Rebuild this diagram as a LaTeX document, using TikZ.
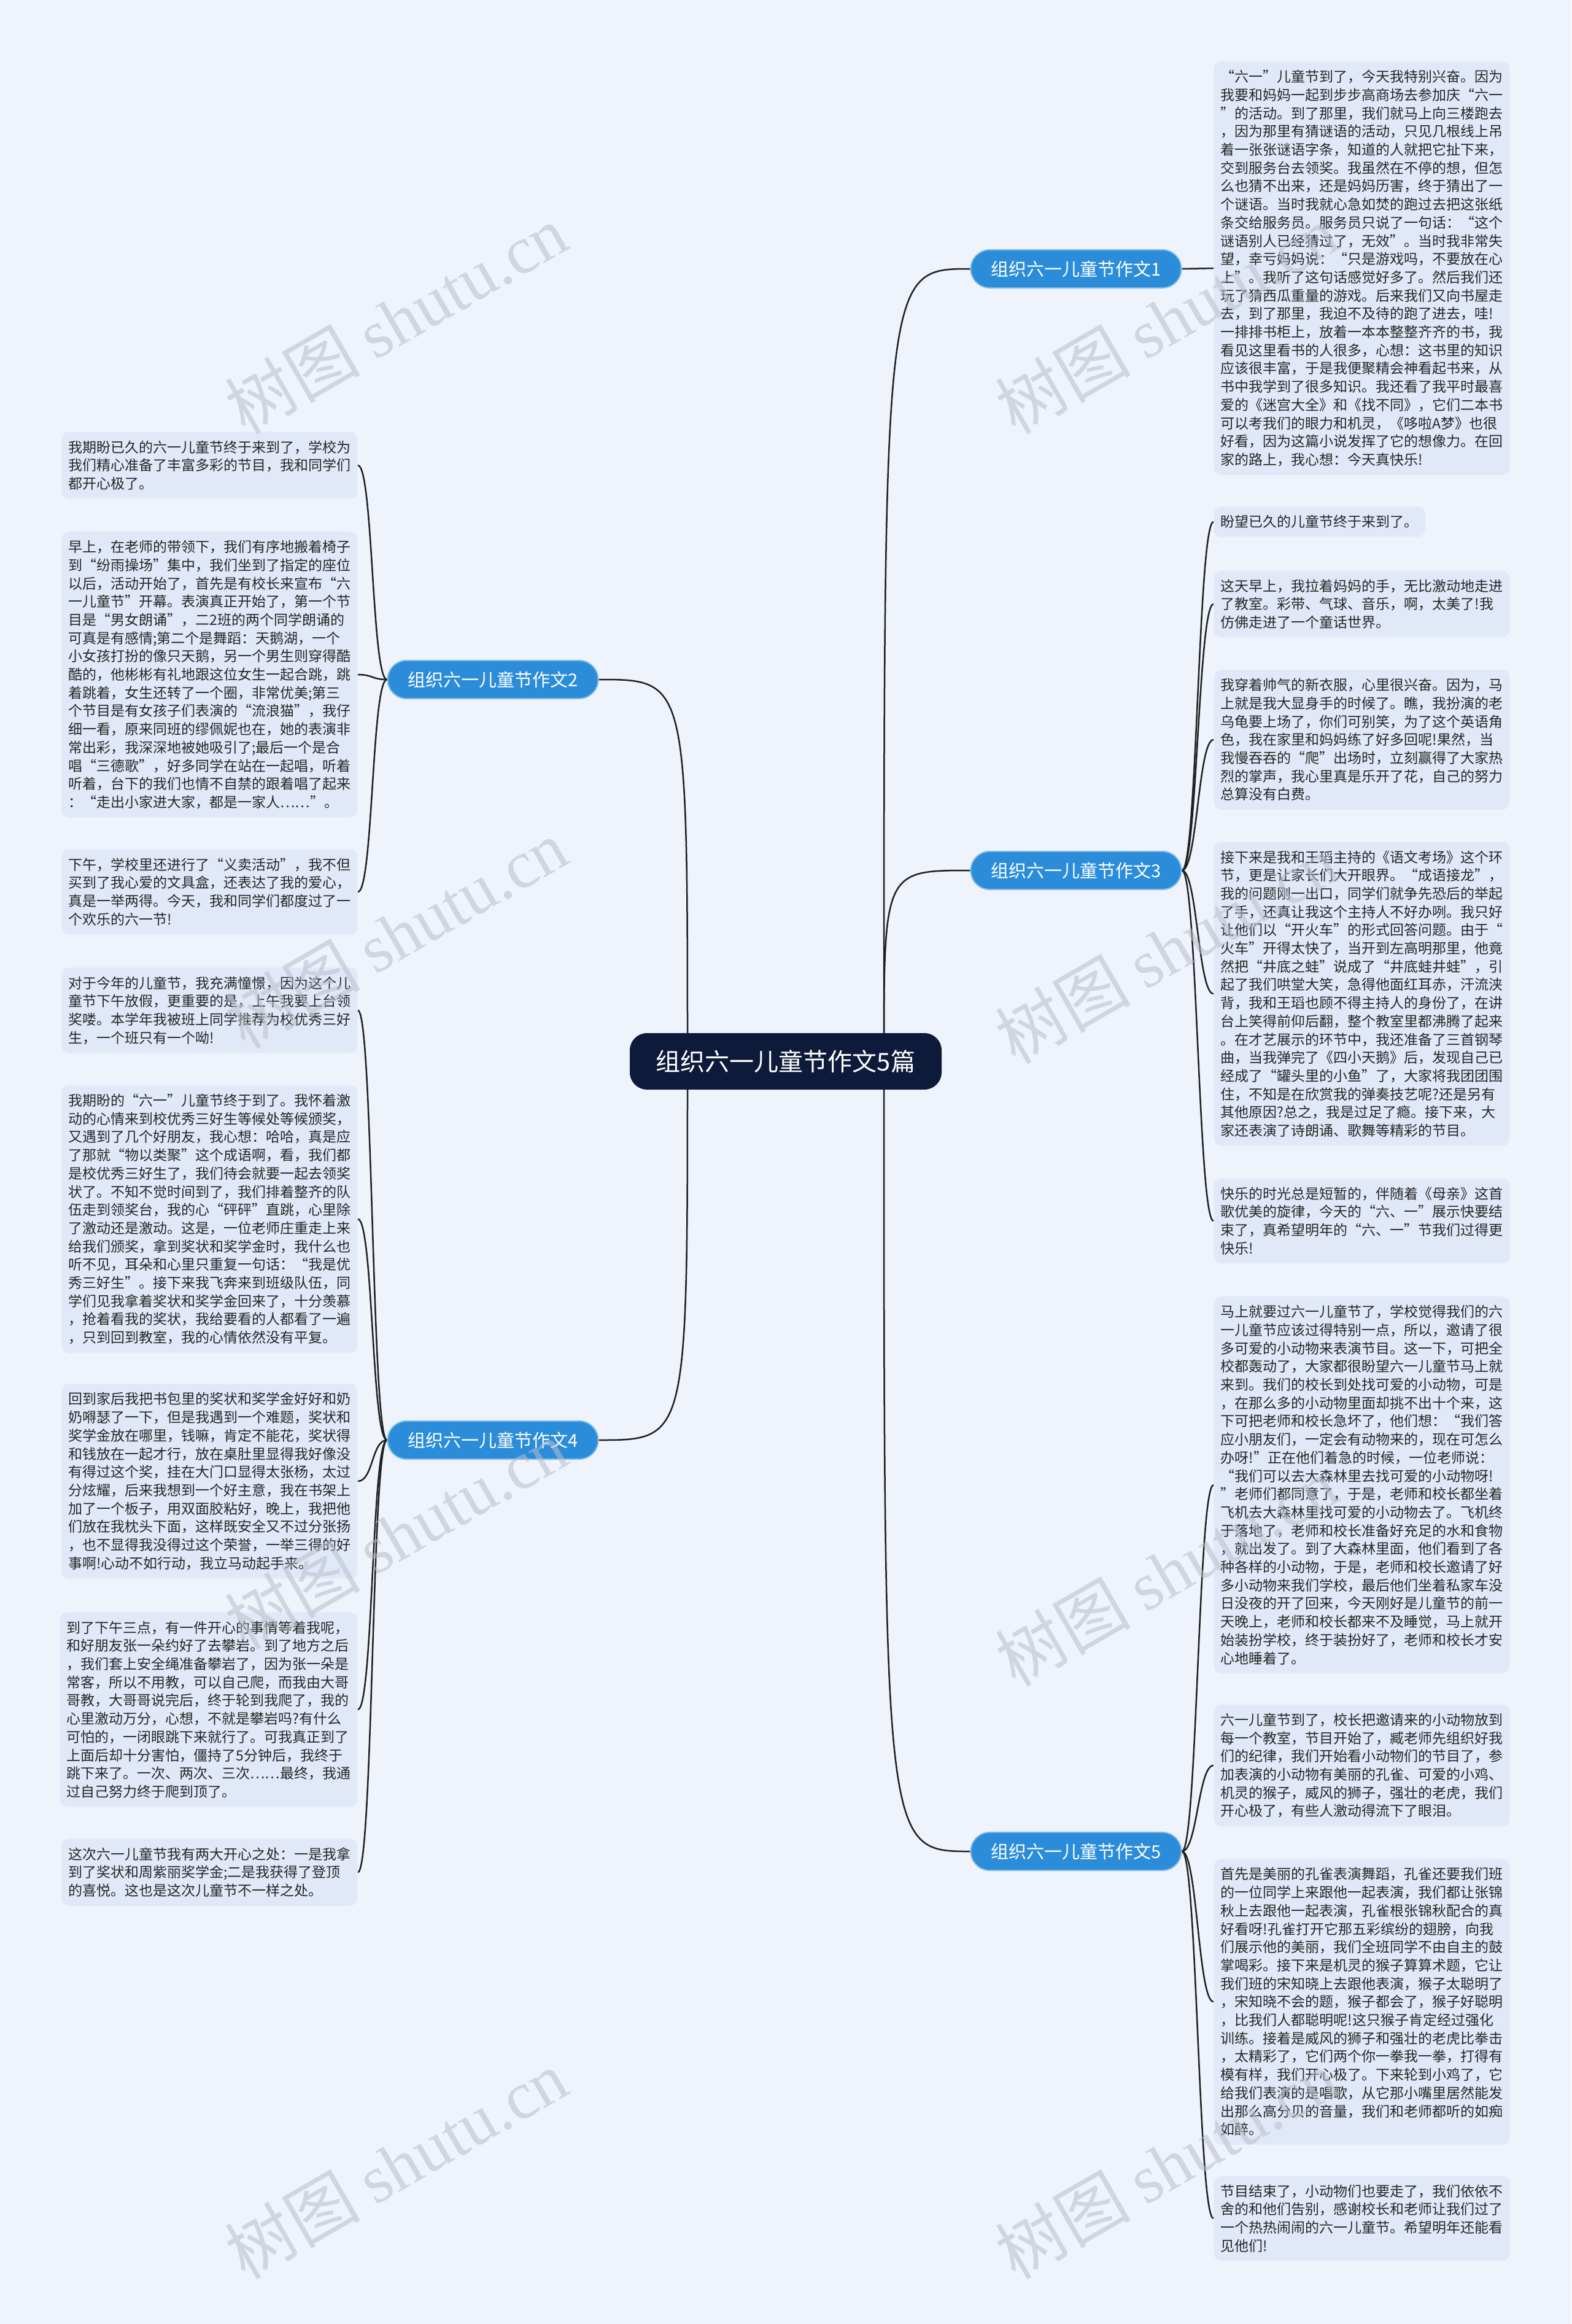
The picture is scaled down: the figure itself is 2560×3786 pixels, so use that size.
\documentclass[tikz,border=0pt]{standalone}
\usepackage{fontspec}
\setmainfont{Noto Sans CJK SC}
\newfontfamily\wmlatin{Liberation Serif}
\usepackage{tikz}
\usetikzlibrary{calc, backgrounds}
\definecolor{pagebg}{HTML}{EEF3FC}
\definecolor{leafbg}{HTML}{E1E9F8}
\definecolor{branchbg}{HTML}{2B8DDA}
\definecolor{rootbg}{HTML}{0E1A3A}
\definecolor{linkcol}{HTML}{1F1F1F}
\definecolor{markcol}{HTML}{B9BEC8}
\tikzset{
    rootnode/.style={rectangle, fill=rootbg, text=white, rounded corners=2.8mm, minimum width=50.8mm, minimum height=9.2mm, inner sep=0pt, font=\fontsize{4mm}{4.8mm}\selectfont},
    branchnode/.style={rectangle, fill=branchbg, draw=branchbg!60!white, line width=0.2mm, text=white, rounded corners=3.1mm, minimum width=34.3mm, minimum height=6.2mm, inner sep=0pt, font=\fontsize{2.9mm}{3.4mm}\selectfont},
    leafnode/.style={rectangle, fill=leafbg, rounded corners=1.2mm, inner xsep=1.1mm, inner ysep=1.4mm, align=left, text=black!85, font=\fontsize{2.3mm}{2.97mm}\selectfont},
    marknode/.style={text=markcol, opacity=0.55, rotate=30, inner sep=0pt, font=\fontsize{11mm}{13mm}\selectfont},
    rootlink/.style={draw=linkcol, line width=0.25mm, to path={.. controls (\tikztostart |- \tikztotarget) .. (\tikztotarget)}},
    rlink/.style={draw=linkcol, line width=0.25mm, to path={.. controls ($(\tikztostart)+(25,0)$) and ($(\tikztotarget)+(-25,0)$) .. (\tikztotarget)}},
    llink/.style={draw=linkcol, line width=0.25mm, to path={.. controls ($(\tikztostart)+(-25,0)$) and ($(\tikztotarget)+(25,0)$) .. (\tikztotarget)}}
}
\begin{document}
\begin{tikzpicture}[x=0.1mm, y=-0.1mm]
  \useasboundingbox (0,0) rectangle (2560,3786);
  \node[rootnode] (root) at (1280,1729) {组织六一儿童节作文5篇};
  \coordinate (rootR) at (1440,1729);
  \coordinate (rootL) at (1120,1729);
  \node[branchnode] (b1) at (1753,438) {组织六一儿童节作文1};
  \node[branchnode] (b2) at (803,1107) {组织六一儿童节作文2};
  \node[branchnode] (b3) at (1753,1418) {组织六一儿童节作文3};
  \node[branchnode] (b4) at (803,2346) {组织六一儿童节作文4};
  \node[branchnode] (b5) at (1753,3016) {组织六一儿童节作文5};

  \node[leafnode, anchor=west] (r1) at (1977,437) {“六一”儿童节到了，今天我特别兴奋。因为\\我要和妈妈一起到步步高商场去参加庆“六一\\”的活动。到了那里，我们就马上向三楼跑去\\，因为那里有猜谜语的活动，只见几根线上吊\\着一张张谜语字条，知道的人就把它扯下来，\\交到服务台去领奖。我虽然在不停的想，但怎\\么也猜不出来，还是妈妈历害，终于猜出了一\\个谜语。当时我就心急如焚的跑过去把这张纸\\条交给服务员。服务员只说了一句话：“这个\\谜语别人已经猜过了，无效”。当时我非常失\\望，幸亏妈妈说：“只是游戏吗，不要放在心\\上”。我听了这句话感觉好多了。然后我们还\\玩了猜西瓜重量的游戏。后来我们又向书屋走\\去，到了那里，我迫不及待的跑了进去，哇!\\一排排书柜上，放着一本本整整齐齐的书，我\\看见这里看书的人很多，心想：这书里的知识\\应该很丰富，于是我便聚精会神看起书来，从\\书中我学到了很多知识。我还看了我平时最喜\\爱的《迷宫大全》和《找不同》，它们二本书\\可以考我们的眼力和机灵，《哆啦A梦》也很\\好看，因为这篇小说发挥了它的想像力。在回\\家的路上，我心想：今天真快乐!};

  \node[leafnode, anchor=east] (l1) at (583,758) {我期盼已久的六一儿童节终于来到了，学校为\\我们精心准备了丰富多彩的节目，我和同学们\\都开心极了。};
  \node[leafnode, anchor=east] (l2) at (583,1099) {早上，在老师的带领下，我们有序地搬着椅子\\到“纷雨操场”集中，我们坐到了指定的座位\\以后，活动开始了，首先是有校长来宣布“六\\一儿童节”开幕。表演真正开始了，第一个节\\目是“男女朗诵”，二2班的两个同学朗诵的\\可真是有感情;第二个是舞蹈：天鹅湖，一个\\小女孩打扮的像只天鹅，另一个男生则穿得酷\\酷的，他彬彬有礼地跟这位女生一起合跳，跳\\着跳着，女生还转了一个圈，非常优美;第三\\个节目是有女孩子们表演的“流浪猫”，我仔\\细一看，原来同班的缪佩妮也在，她的表演非\\常出彩，我深深地被她吸引了;最后一个是合\\唱“三德歌”，好多同学在站在一起唱，听着\\听着，台下的我们也情不自禁的跟着唱了起来\\：“走出小家进大家，都是一家人……”。};
  \node[leafnode, anchor=east] (l3) at (583,1453) {下午，学校里还进行了“义卖活动”，我不但\\买到了我心爱的文具盒，还表达了我的爱心，\\真是一举两得。今天，我和同学们都度过了一\\个欢乐的六一节!};

  \node[leafnode, anchor=west] (r2) at (1977,850) {盼望已久的儿童节终于来到了。};
  \node[leafnode, anchor=west] (r3) at (1977,984) {这天早上，我拉着妈妈的手，无比激动地走进\\了教室。彩带、气球、音乐，啊，太美了!我\\仿佛走进了一个童话世界。};
  \node[leafnode, anchor=west] (r4) at (1977,1205) {我穿着帅气的新衣服，心里很兴奋。因为，马\\上就是我大显身手的时候了。瞧，我扮演的老\\乌龟要上场了，你们可别笑，为了这个英语角\\色，我在家里和妈妈练了好多回呢!果然，当\\我慢吞吞的“爬”出场时，立刻赢得了大家热\\烈的掌声，我心里真是乐开了花，自己的努力\\总算没有白费。};
  \node[leafnode, anchor=west] (r5) at (1977,1619) {接下来是我和王瑫主持的《语文考场》这个环\\节，更是让家长们大开眼界。“成语接龙”，\\我的问题刚一出口，同学们就争先恐后的举起\\了手，还真让我这个主持人不好办咧。我只好\\让他们以“开火车”的形式回答问题。由于“\\火车”开得太快了，当开到左高明那里，他竟\\然把“井底之蛙”说成了“井底蛙井蛙”，引\\起了我们哄堂大笑，急得他面红耳赤，汗流浃\\背，我和王瑫也顾不得主持人的身份了，在讲\\台上笑得前仰后翻，整个教室里都沸腾了起来\\。在才艺展示的环节中，我还准备了三首钢琴\\曲，当我弹完了《四小天鹅》后，发现自己已\\经成了“罐头里的小鱼”了，大家将我团团围\\住，不知是在欣赏我的弹奏技艺呢?还是另有\\其他原因?总之，我是过足了瘾。接下来，大\\家还表演了诗朗诵、歌舞等精彩的节目。};
  \node[leafnode, anchor=west] (r6) at (1977,1989) {快乐的时光总是短暂的，伴随着《母亲》这首\\歌优美的旋律，今天的“六、一”展示快要结\\束了，真希望明年的“六、一”节我们过得更\\快乐!};

  \node[leafnode, anchor=east] (l4) at (583,1646) {对于今年的儿童节，我充满憧憬，因为这个儿\\童节下午放假，更重要的是，上午我要上台领\\奖喽。本学年我被班上同学推荐为校优秀三好\\生，一个班只有一个呦!};
  \node[leafnode, anchor=east] (l5) at (583,1986) {我期盼的“六一”儿童节终于到了。我怀着激\\动的心情来到校优秀三好生等候处等候颁奖，\\又遇到了几个好朋友，我心想：哈哈，真是应\\了那就“物以类聚”这个成语啊，看，我们都\\是校优秀三好生了，我们待会就要一起去领奖\\状了。不知不觉时间到了，我们排着整齐的队\\伍走到领奖台，我的心“砰砰”直跳，心里除\\了激动还是激动。这是，一位老师庄重走上来\\给我们颁奖，拿到奖状和奖学金时，我什么也\\听不见，耳朵和心里只重复一句话：“我是优\\秀三好生”。接下来我飞奔来到班级队伍，同\\学们见我拿着奖状和奖学金回来了，十分羡慕\\，抢着看我的奖状，我给要看的人都看了一遍\\，只到回到教室，我的心情依然没有平复。};
  \node[leafnode, anchor=east] (l6) at (583,2413) {回到家后我把书包里的奖状和奖学金好好和奶\\奶嘚瑟了一下，但是我遇到一个难题，奖状和\\奖学金放在哪里，钱嘛，肯定不能花，奖状得\\和钱放在一起才行，放在桌肚里显得我好像没\\有得过这个奖，挂在大门口显得太张杨，太过\\分炫耀，后来我想到一个好主意，我在书架上\\加了一个板子，用双面胶粘好，晚上，我把他\\们放在我枕头下面，这样既安全又不过分张扬\\，也不显得我没得过这个荣誉，一举三得的好\\事啊!心动不如行动，我立马动起手来。};
  \node[leafnode, anchor=east] (l7) at (583,2785) {到了下午三点，有一件开心的事情等着我呢，\\和好朋友张一朵约好了去攀岩。到了地方之后\\，我们套上安全绳准备攀岩了，因为张一朵是\\常客，所以不用教，可以自己爬，而我由大哥\\哥教，大哥哥说完后，终于轮到我爬了，我的\\心里激动万分，心想，不就是攀岩吗?有什么\\可怕的，一闭眼跳下来就行了。可我真正到了\\上面后却十分害怕，僵持了5分钟后，我终于\\跳下来了。一次、两次、三次……最终，我通\\过自己努力终于爬到顶了。};
  \node[leafnode, anchor=east] (l8) at (583,3050) {这次六一儿童节我有两大开心之处：一是我拿\\到了奖状和周紫丽奖学金;二是我获得了登顶\\的喜悦。这也是这次儿童节不一样之处。};

  \node[leafnode, anchor=west] (r7) at (1977,2419) {马上就要过六一儿童节了，学校觉得我们的六\\一儿童节应该过得特别一点，所以，邀请了很\\多可爱的小动物来表演节目。这一下，可把全\\校都轰动了，大家都很盼望六一儿童节马上就\\来到。我们的校长到处找可爱的小动物，可是\\，在那么多的小动物里面却挑不出十个来，这\\下可把老师和校长急坏了，他们想：“我们答\\应小朋友们，一定会有动物来的，现在可怎么\\办呀!”正在他们着急的时候，一位老师说：\\“我们可以去大森林里去找可爱的小动物呀!\\”老师们都同意了，于是，老师和校长都坐着\\飞机去大森林里找可爱的小动物去了。飞机终\\于落地了，老师和校长准备好充足的水和食物\\，就出发了。到了大森林里面，他们看到了各\\种各样的小动物，于是，老师和校长邀请了好\\多小动物来我们学校，最后他们坐着私家车没\\日没夜的开了回来，今天刚好是儿童节的前一\\天晚上，老师和校长都来不及睡觉，马上就开\\始装扮学校，终于装扮好了，老师和校长才安\\心地睡着了。};
  \node[leafnode, anchor=west] (r8) at (1977,2876) {六一儿童节到了，校长把邀请来的小动物放到\\每一个教室，节目开始了，臧老师先组织好我\\们的纪律，我们开始看小动物们的节目了，参\\加表演的小动物有美丽的孔雀、可爱的小鸡、\\机灵的猴子，威风的狮子，强壮的老虎，我们\\开心极了，有些人激动得流下了眼泪。};
  \node[leafnode, anchor=west] (r9) at (1977,3261) {首先是美丽的孔雀表演舞蹈，孔雀还要我们班\\的一位同学上来跟他一起表演，我们都让张锦\\秋上去跟他一起表演，孔雀根张锦秋配合的真\\好看呀!孔雀打开它那五彩缤纷的翅膀，向我\\们展示他的美丽，我们全班同学不由自主的鼓\\掌喝彩。接下来是机灵的猴子算算术题，它让\\我们班的宋知晓上去跟他表演，猴子太聪明了\\，宋知晓不会的题，猴子都会了，猴子好聪明\\，比我们人都聪明呢!这只猴子肯定经过强化\\训练。接着是威风的狮子和强壮的老虎比拳击\\，太精彩了，它们两个你一拳我一拳，打得有\\模有样，我们开心极了。下来轮到小鸡了，它\\给我们表演的是唱歌，从它那小嘴里居然能发\\出那么高分贝的音量，我们和老师都听的如痴\\如醉。};
  \node[leafnode, anchor=west] (r10) at (1977,3614) {节目结束了，小动物们也要走了，我们依依不\\舍的和他们告别，感谢校长和老师让我们过了\\一个热热闹闹的六一儿童节。希望明年还能看\\见他们!};

  \begin{scope}[on background layer]
    \fill[pagebg] (0,0) rectangle (2560,3786);
    \draw[rootlink] (rootR) to (b1.west);
    \draw[rootlink] (rootR) to (b3.west);
    \draw[rootlink] (rootR) to (b5.west);
    \draw[rootlink] (rootL) to (b2.east);
    \draw[rootlink] (rootL) to (b4.east);
    \draw[rlink] (b1.east) to (r1.west);
    \draw[llink] (b2.west) to (l1.east);
    \draw[llink] (b2.west) to (l2.east);
    \draw[llink] (b2.west) to (l3.east);
    \draw[rlink] (b3.east) to (r2.west);
    \draw[rlink] (b3.east) to (r3.west);
    \draw[rlink] (b3.east) to (r4.west);
    \draw[rlink] (b3.east) to (r5.west);
    \draw[rlink] (b3.east) to (r6.west);
    \draw[llink] (b4.west) to (l4.east);
    \draw[llink] (b4.west) to (l5.east);
    \draw[llink] (b4.west) to (l6.east);
    \draw[llink] (b4.west) to (l7.east);
    \draw[llink] (b4.west) to (l8.east);
    \draw[rlink] (b5.east) to (r7.west);
    \draw[rlink] (b5.east) to (r8.west);
    \draw[rlink] (b5.east) to (r9.west);
    \draw[rlink] (b5.east) to (r10.west);
  \end{scope}

  \node[marknode] (wm1) at (645,520) {树图 {\wmlatin shutu.cn}};
  \node[marknode] (wm2) at (1900,520) {树图 {\wmlatin shutu.cn}};
  \node[marknode] (wm3) at (645,1521) {树图 {\wmlatin shutu.cn}};
  \node[marknode] (wm4) at (1900,1546) {树图 {\wmlatin shutu.cn}};
  \node[marknode] (wm5) at (645,2500) {树图 {\wmlatin shutu.cn}};
  \node[marknode] (wm6) at (1900,2560) {树图 {\wmlatin shutu.cn}};
  \node[marknode] (wm7) at (645,3526) {树图 {\wmlatin shutu.cn}};
  \node[marknode] (wm8) at (1900,3526) {树图 {\wmlatin shutu.cn}};
\end{tikzpicture}
\end{document}
